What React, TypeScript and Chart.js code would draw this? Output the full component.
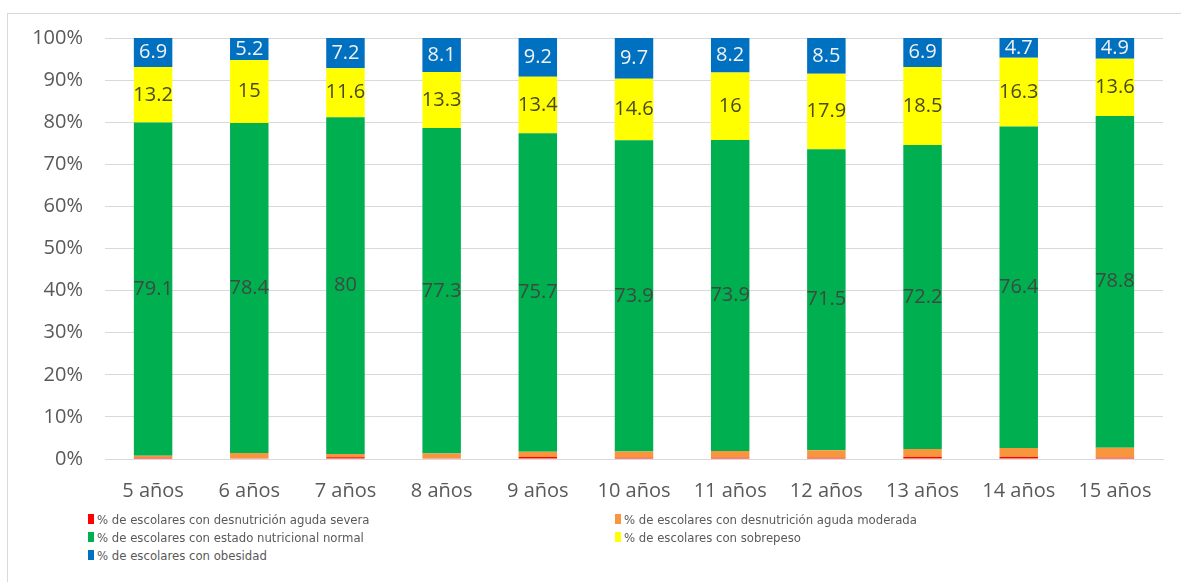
import React, { useEffect, useRef } from "react";
import { Chart, registerables } from "chart.js";

Chart.register(...registerables);

const categories = ["5 años", "6 años", "7 años", "8 años", "9 años", "10 años", "11 años", "12 años", "13 años", "14 años", "15 años"];
const severa = [0.3, 0.2, 0.4, 0.2, 0.5, 0.3, 0.3, 0.3, 0.5, 0.5, 0.3];
const moderada = [0.5, 1.2, 0.8, 1.1, 1.2, 1.5, 1.6, 1.8, 1.9, 2.1, 2.4];
const normal = [79.1, 78.4, 80, 77.3, 75.7, 73.9, 73.9, 71.5, 72.2, 76.4, 78.8];
const sobrepeso = [13.2, 15, 11.6, 13.3, 13.4, 14.6, 16, 17.9, 18.5, 16.3, 13.6];
const obesidad = [6.9, 5.2, 7.2, 8.1, 9.2, 9.7, 8.2, 8.5, 6.9, 4.7, 4.9];
const yTicks = [0, 10, 20, 30, 40, 50, 60, 70, 80, 90, 100];

const seriesNames = [
  "% de escolares con desnutrición aguda severa",
  "% de escolares con desnutrición aguda moderada",
  "% de escolares con estado nutricional normal",
  "% de escolares con sobrepeso",
  "% de escolares con obesidad",
];
const seriesColors = ["#ff0000", "#f7963d", "#00b050", "#ffff00", "#0070c0"];
const labelColors = [null, null, "#3d4a40", "#4a4a20", "#f2f2f2"];

const labelPlugin = {
  id: "segLabels",
  afterDatasetsDraw(chart: any) {
    const ctx = chart.ctx;
    ctx.save();
    ctx.font = "20px 'Open Sans'";
    ctx.textAlign = "center";
    ctx.textBaseline = "middle";
    chart.data.datasets.forEach((ds: any, di: number) => {
      const col = labelColors[di];
      if (!col) return;
      const meta = chart.getDatasetMeta(di);
      meta.data.forEach((el: any, i: number) => {
        const y = (el.y + el.base) / 2;
        ctx.fillStyle = col;
        ctx.fillText(String(ds.data[i]), el.x, y);
      });
    });
    ctx.restore();
  },
};

export default function App() {
  const ref = useRef<HTMLCanvasElement>(null);
  useEffect(() => {
    const data = [severa, moderada, normal, sobrepeso, obesidad];
    const chart = new Chart(ref.current!, {
      type: "bar",
      data: {
        labels: categories,
        datasets: data.map((d, i) => ({
          label: seriesNames[i],
          data: d,
          backgroundColor: seriesColors[i],
          borderWidth: 0,
          barPercentage: 0.4,
          categoryPercentage: 1,
        })),
      },
      options: {
        animation: false,
        responsive: false,
        maintainAspectRatio: false,
        layout: { padding: { top: 24, right: 18, bottom: 9, left: 0 } },
        plugins: { legend: { display: false }, tooltip: { enabled: false } },
        scales: {
          x: {
            stacked: true,
            grid: { display: false, drawTicks: false },
            border: { display: true, color: "#d9d9d9" },
            ticks: { color: "#595959", font: { family: "'Open Sans'", size: 20 }, padding: 20, maxRotation: 0 },
          },
          y: {
            stacked: true,
            min: 0,
            max: 100,
            afterFit(axis: any) {
              axis.width = 97;
              axis.paddingTop = 12;
              axis.paddingBottom = 12;
            },
            afterBuildTicks(axis: any) { axis.ticks = yTicks.map((v) => ({ value: v })); },
            grid: { color: "#d9d9d9", drawTicks: false },
            border: { display: false },
            ticks: {
              color: "#595959",
              font: { family: "'Open Sans'", size: 20 },
              padding: 22,
              callback: (v: any) => v + "%",
            },
          },
        },
      },
      plugins: [labelPlugin],
    });
    return () => chart.destroy();
  }, []);

  const legendItem = (i: number, left: number, top: number) => (
    <div key={i} style={{ position: "absolute", left, top, display: "flex", alignItems: "center", height: 18 }}>
      <span style={{ display: "inline-block", width: 6, height: 10, background: seriesColors[i], marginRight: 3 }} />
      <span style={{ fontFamily: "'Liberation Sans Narrow', 'DejaVu Sans Condensed', 'Open Sans', sans-serif", fontSize: 13, color: "#595959", whiteSpace: "nowrap" }}>{seriesNames[i]}</span>
    </div>
  );

  return (
    <div style={{ position: "absolute", left: 7, top: 13, width: 1173, height: 568, borderLeft: "1px solid #d9d9d9", borderTop: "1px solid #d9d9d9", overflow: "hidden", background: "#fff" }}>
      <canvas ref={ref} width={1173} height={518} style={{ display: "block" }} />
      {legendItem(0, 80, 496)}
      {legendItem(1, 607, 496)}
      {legendItem(2, 80, 514)}
      {legendItem(3, 607, 514)}
      {legendItem(4, 80, 532)}
    </div>
  );
}
